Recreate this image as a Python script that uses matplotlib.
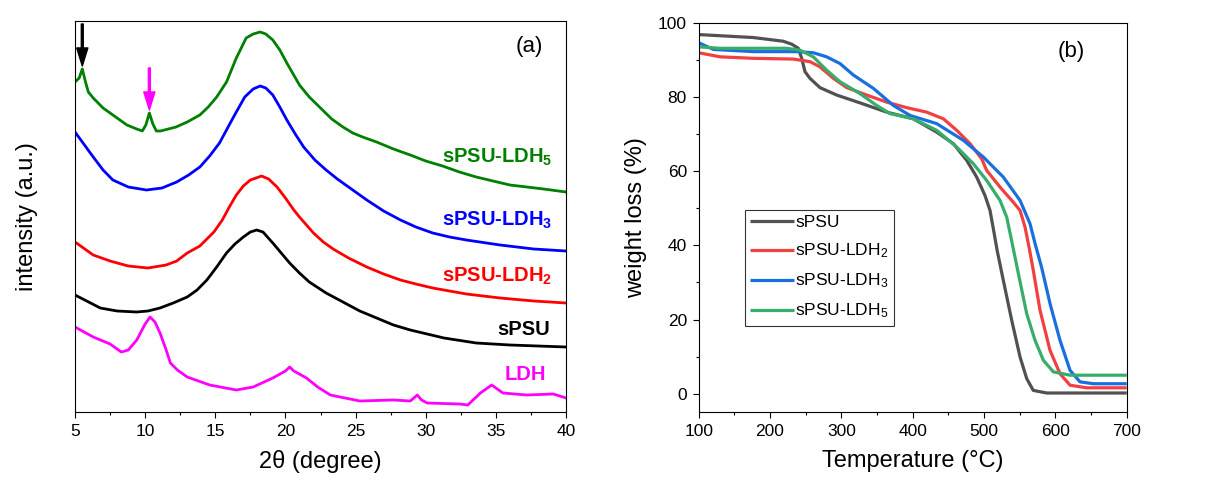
import numpy as np
import matplotlib
matplotlib.use("Agg")
import matplotlib.pyplot as plt
from matplotlib.ticker import MultipleLocator

plt.rcParams['font.family'] = ['Liberation Sans', 'DejaVu Sans']
plt.rcParams['mathtext.fontset'] = 'custom'
plt.rcParams['mathtext.rm'] = 'Liberation Sans'
plt.rcParams['mathtext.bf'] = 'Liberation Sans:bold'
plt.rcParams['mathtext.it'] = 'Liberation Sans:italic'

# ---------------- XRD data (2theta in degree, intensity in a.u.) ----------------
tt_ldh5 = [5.0, 5.3, 5.52, 5.75, 5.95, 6.3, 7.0, 8.0, 8.7, 9.4, 9.8, 10.05, 10.3, 10.55, 10.8, 11.1,
           12.2, 13.0, 13.9, 14.5, 15.1, 15.8, 16.5, 17.2, 17.7, 18.2, 18.6, 19.1, 19.6, 20.1, 21.0,
           21.7, 22.5, 23.3, 24.1, 24.8, 25.5, 26.5, 27.7, 28.9, 30.0, 31.2, 32.4, 33.6, 34.8, 36.0,
           37.2, 38.4, 40.0]
int_ldh5 = [330, 334, 343, 330, 320, 314, 304, 294, 287, 283, 281, 287, 299, 288, 281, 281,
            285, 290, 297, 305, 315, 330, 354, 374, 378, 380, 378, 372, 362, 349, 327,
            315, 304, 293, 285, 279, 275, 270, 263, 257, 251, 246, 240, 235, 231, 227,
            225, 223, 220]

tt_ldh3 = [5.0, 6.3, 7.0, 7.7, 8.8, 10.1, 11.2, 12.25, 13.1, 13.9, 14.6, 15.3, 16.3, 17.1, 17.7,
           18.2, 18.6, 19.1, 19.6, 20.1, 20.7, 21.3, 22.1, 22.9, 23.7, 24.5, 25.8, 27.0, 28.2,
           29.3, 30.5, 31.7, 32.9, 35.3, 37.7, 40.0]
int_ldh3 = [280, 255, 242, 232, 225, 222, 224, 230, 237, 245, 256, 269, 295, 315, 323,
            326, 324, 317, 305, 292, 278, 265, 252, 242, 233, 225, 212, 201, 192,
            185, 179, 175, 172, 167, 163, 161]

tt_ldh2 = [5.0, 6.3, 7.5, 8.8, 10.2, 11.5, 12.25, 13.0, 13.9, 14.9, 15.5, 16.0, 16.5, 17.0, 17.5,
           18.3, 18.8, 19.4, 20.0, 20.6, 21.0, 22.0, 22.7, 23.4, 24.5, 25.8, 27.0, 28.2, 29.3,
           30.5, 31.7, 32.9, 35.3, 37.7, 40.0]
int_ldh2 = [170, 157, 151, 146, 144, 147, 151, 159, 166, 180, 192, 205, 217, 226, 232,
            236, 233, 225, 214, 202, 195, 179, 170, 163, 154, 145, 138, 132, 128,
            124, 121, 118, 114, 111, 109]

tt_spsu = [5.0, 6.8, 8.0, 9.4, 10.2, 11.06, 12.0, 13.0, 13.7, 14.4, 15.1, 15.8, 16.4, 17.0, 17.5,
           17.95, 18.4, 19.1, 19.7, 20.3, 21.0, 21.7, 22.9, 24.1, 25.3, 26.5, 27.7, 28.9, 30.1,
           31.3, 33.6, 36.0, 38.0, 40.0]
int_spsu = [117, 104, 101, 100, 101, 104, 109, 115, 122, 132, 145, 159, 168, 175, 180,
            182, 180, 169, 159, 149, 139, 130, 119, 110, 101, 94, 87, 82, 78,
            74, 69, 67, 66, 65]

tt_ldh = [5.0, 6.3, 7.5, 8.3, 8.8, 9.4, 10.0, 10.35, 10.7, 11.06, 11.5, 11.8, 12.3, 13.0, 14.6,
          16.5, 17.7, 19.1, 20.0, 20.3, 20.6, 21.5, 22.3, 23.2, 25.3, 27.7, 28.9, 29.4, 29.7, 30.1,
          32.4, 33.0, 33.9, 34.7, 35.5, 37.2, 39.1, 40.0]
int_ldh = [85, 75, 68, 60, 62, 72, 88, 95, 90, 79, 62, 49, 42, 35, 27,
           22, 25, 34, 41, 45, 41, 34, 25, 17, 11, 12, 11, 17, 12, 9,
           8, 7, 19, 27, 19, 17, 18, 14]

xrd_labels = ['sPSU-LDH$_\\mathbf{5}$', 'sPSU-LDH$_\\mathbf{3}$', 'sPSU-LDH$_\\mathbf{2}$', 'sPSU', 'LDH']
xrd_colors = ['#008000', '#0000ff', '#ff0000', '#000000', '#ff00ff']

# ---------------- TGA data (temperature in C, weight in %) ----------------
T_spsu = [100, 176.6, 218.7, 230.4, 239.7, 244.4, 249, 256, 270, 293.5, 326, 363.5, 401, 433.6,
          457, 475.7, 489.7, 501.4, 508.4, 513, 518.5, 527, 538.8, 550.5, 559.8, 569, 588, 700]
W_spsu = [96.8, 96.0, 95.0, 94.2, 93.1, 90.4, 86.8, 85.0, 82.5, 80.5, 78.4, 75.9, 74.1, 70.5,
          67.4, 62.9, 58.4, 53.4, 49.4, 44.5, 38.5, 30.6, 19.8, 9.9, 4.1, 0.9, 0.2, 0.2]

T_ldh2 = [100, 130, 176.6, 232.7, 256, 270, 288.8, 307.5, 335.5, 363.5, 391.6, 419.6, 443, 461.7,
          480.4, 496.7, 503.7, 522.4, 541.1, 550.5, 557.5, 563.6, 569, 578.5, 592.5, 606.5, 620.6,
          644, 700]
W_ldh2 = [91.9, 90.8, 90.4, 90.2, 89.5, 88.1, 85.0, 82.5, 80.5, 78.6, 77.1, 75.9, 74.1, 71.0,
          67.4, 63.3, 60.2, 55.7, 51.6, 49.4, 44.9, 39.0, 33.3, 22.5, 11.7, 5.4, 2.3,
          1.6, 1.6]

T_ldh3 = [100, 120.6, 176.6, 237.4, 260.7, 279.4, 298, 316.8, 344.9, 372.9, 396.3, 433.6, 471,
          499, 527, 550.5, 564.5, 571.5, 580.8, 592.5, 606.5, 620.6, 634.6, 653.3, 700]
W_ldh3 = [94.6, 92.8, 92.2, 92.2, 91.9, 90.8, 89.0, 85.9, 82.3, 77.7, 75.0, 72.8, 68.3,
          63.8, 58.4, 52.1, 45.8, 40.5, 34.0, 24.3, 14.4, 6.3, 3.2, 2.7, 2.7]

T_ldh5 = [100, 130, 223.4, 242, 260.7, 279.4, 298, 326, 349.5, 368.2, 401, 433.6, 461.7, 485,
          503.7, 522.4, 531.8, 541.1, 548.1, 559.8, 571.5, 583.2, 597.2, 620.6, 700]
W_ldh5 = [93.5, 93.1, 93.1, 92.6, 90.8, 87.2, 84.1, 80.9, 77.7, 75.5, 74.1, 71.0, 66.5, 62.0,
          57.5, 52.1, 47.6, 39.0, 32.4, 21.6, 14.4, 9.0, 5.9, 5.0, 5.0]

tga_labels = ['sPSU', 'sPSU-LDH$_2$', 'sPSU-LDH$_3$', 'sPSU-LDH$_5$']
tga_colors = ['#515151', '#F14040', '#1A6FDF', '#37AD6B']

# ---------------- figure ----------------
W, H = 1216, 486
fig = plt.figure(figsize=(W / 100, H / 100), dpi=100)

def rect(l, t, r, b):
    return [l / W, 1 - b / H, (r - l) / W, (b - t) / H]

axL = fig.add_axes(rect(75, 21, 566, 412))
axR = fig.add_axes(rect(698.7, 22.7, 1126.7, 412.3))

# ---- left panel ----
xrd_x = [tt_ldh5, tt_ldh3, tt_ldh2, tt_spsu, tt_ldh]
xrd_y = [int_ldh5, int_ldh3, int_ldh2, int_spsu, int_ldh]
for xs, ys, c in zip(xrd_x, xrd_y, xrd_colors):
    axL.plot(xs, ys, color=c, lw=2.0, solid_joinstyle='round')

label_y = [0.652, 0.491, 0.348, 0.212, 0.097]
label_x = [0.972, 0.972, 0.972, 0.968, 0.960]
for lab, c, lx, ly in zip(xrd_labels, xrd_colors, label_x, label_y):
    axL.text(lx, ly, lab, color=c, fontsize=14.5, fontweight='bold',
             ha='right', va='center', transform=axL.transAxes)

# arrows marking reflections of the sPSU-LDH5 pattern
arrow_x = [5.52, 10.3]
arrow_c = ['#000000', '#ff00ff']
for ax_, ac in zip(arrow_x, arrow_c):
    peak = np.interp(ax_, tt_ldh5, int_ldh5)
    axL.annotate('', xy=(ax_, peak + 3), xytext=(ax_, peak + 45),
                 arrowprops=dict(width=1.4, headwidth=8, headlength=13, color=ac, shrink=0))

axL.text(0.925, 0.936, '(a)', fontsize=16, ha='center', va='center', transform=axL.transAxes)
axL.set_xlim(5, 40)
axL.set_ylim(0, 391)
axL.xaxis.set_major_locator(MultipleLocator(5))
axL.xaxis.set_minor_locator(MultipleLocator(2.5))
axL.set_yticks([])
axL.tick_params(axis='x', which='major', direction='out', length=4.5, width=0.8, labelsize=12.5, pad=4)
axL.tick_params(axis='x', which='minor', direction='out', length=2.5, width=0.8)
axL.set_xlabel('2θ (degree)', fontsize=17, labelpad=8)
axL.set_ylabel('intensity (a.u.)', fontsize=17, labelpad=27)

# ---- right panel ----
tga_T = [T_spsu, T_ldh2, T_ldh3, T_ldh5]
tga_W = [W_spsu, W_ldh2, W_ldh3, W_ldh5]
for xs, ys, c, lab in zip(tga_T, tga_W, tga_colors, tga_labels):
    axR.plot(xs, ys, color=c, lw=2.3, label=lab, solid_joinstyle='round', solid_capstyle='butt')

axR.set_xlim(100, 700)
axR.set_ylim(-5, 100)
axR.xaxis.set_major_locator(MultipleLocator(100))
axR.xaxis.set_minor_locator(MultipleLocator(50))
axR.yaxis.set_major_locator(MultipleLocator(20))
axR.yaxis.set_minor_locator(MultipleLocator(10))
axR.tick_params(which='major', direction='out', length=4.5, width=0.8, labelsize=12.5, pad=4)
axR.tick_params(which='minor', direction='out', length=2.5, width=0.8)
axR.set_xlabel('Temperature (°C)', fontsize=17, labelpad=8)
axR.set_ylabel('weight loss (%)', fontsize=17, labelpad=8)
axR.text(0.87, 0.926, '(b)', fontsize=16, ha='center', va='center', transform=axR.transAxes)

leg = axR.legend(loc='upper left', bbox_to_anchor=(0.108, 0.519), borderaxespad=0,
                 fontsize=12.5, frameon=True, fancybox=False, edgecolor='black',
                 handlelength=2.5, handletextpad=0.1, labelspacing=0.65, borderpad=0.3)
leg.get_frame().set_linewidth(0.8)

for ax in (axL, axR):
    for s in ax.spines.values():
        s.set_linewidth(0.8)

fig.savefig('out.png', dpi=100)
